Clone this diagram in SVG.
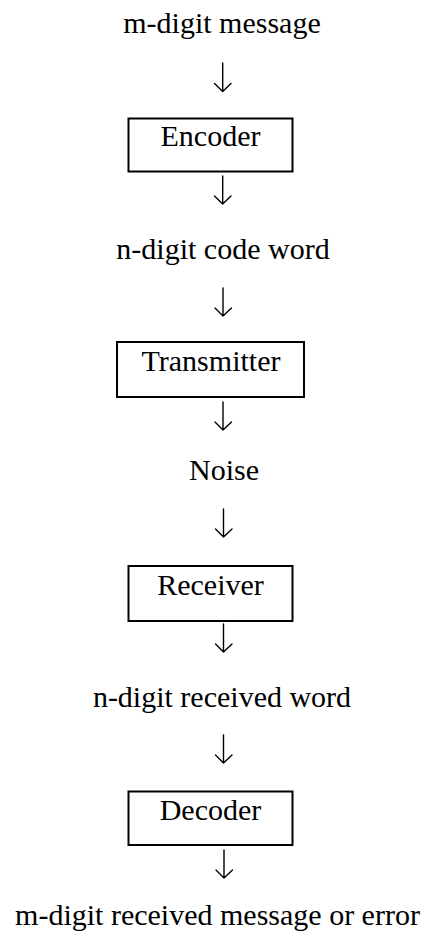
<svg xmlns="http://www.w3.org/2000/svg" width="436" height="938" viewBox="0 0 436 938">
<style>
text{font-family:"Liberation Serif","Times New Roman",serif;font-size:30px;fill:#000;text-anchor:middle}
.box{fill:#fff;stroke:#000;stroke-width:2}
.arr{fill:none;stroke:#000;stroke-width:1.4;stroke-linecap:round;stroke-linejoin:round}
</style>
<rect width="436" height="938" fill="#fff"/>
<g id="msg"><text x="222" y="33">m-digit message</text></g>
<g id="encoder"><rect class="box" x="128.5" y="118.5" width="164" height="53"/><text x="210.5" y="146">Encoder</text></g>
<g id="codeword"><text x="223" y="259">n-digit code word</text></g>
<g id="transmitter"><rect class="box" x="117" y="342" width="187" height="55"/><text x="211" y="371">Transmitter</text></g>
<g id="noise"><text x="224" y="480">Noise</text></g>
<g id="receiver"><rect class="box" x="128.5" y="566" width="164" height="55"/><text x="210.5" y="595">Receiver</text></g>
<g id="receivedword"><text x="222" y="707">n-digit received word</text></g>
<g id="decoder"><rect class="box" x="128.5" y="791.5" width="164" height="53.5"/><text x="210.5" y="820">Decoder</text></g>
<g id="output"><text x="217.5" y="925">m-digit received message or error</text></g>
<g id="connectors">
<path class="arr" d="M222.7 63V91.5M214.5 83.5L222.7 91.5L231 83.5"/>
<path class="arr" d="M222.7 176V204M214.5 196L222.7 204L231 196"/>
<path class="arr" d="M223 288V316M215 308L223 316L231.5 308"/>
<path class="arr" d="M223 402V430M215 422L223 430L231.5 422"/>
<path class="arr" d="M223.5 509V537M215.5 529L223.5 537L232 529"/>
<path class="arr" d="M223.5 624V652M215.5 644L223.5 652L232 644"/>
<path class="arr" d="M223.5 735V763M215.5 755L223.5 763L232 755"/>
<path class="arr" d="M224 850V878M216 870L224 878L232.5 870"/>
</g>
</svg>
